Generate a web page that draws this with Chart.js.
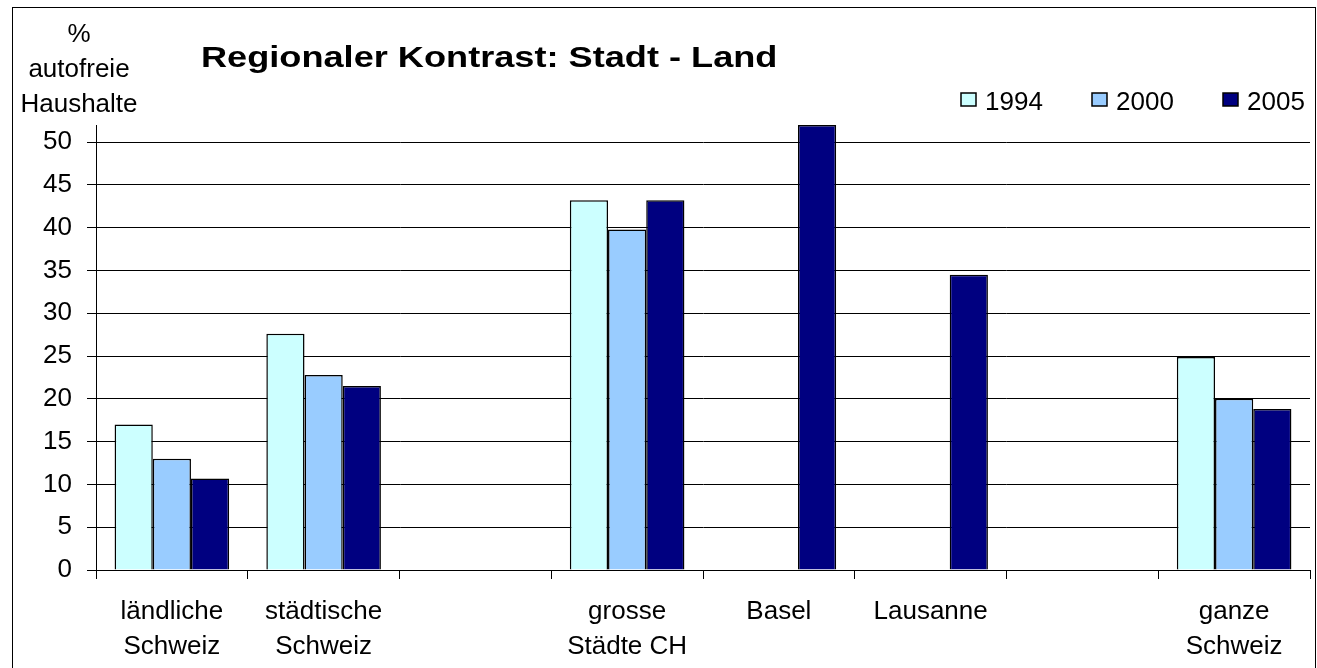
<!DOCTYPE html>
<html lang="de">
<head>
<meta charset="utf-8">
<title>Regionaler Kontrast: Stadt - Land</title>
<script src="https://cdn.jsdelivr.net/npm/chart.js@4.4.1/dist/chart.umd.min.js"></script>
<style>
  html, body { margin: 0; padding: 0; background: #fff; }
  #wrap { position: relative; width: 1317px; height: 668px; }
</style>
</head>
<body>
<div id="wrap"><canvas id="barChart"></canvas></div>
<script>
// Categories (empty strings are the gaps in the original sheet)
const categories = [
  ["ländliche", "Schweiz"],
  ["städtische", "Schweiz"],
  "",
  ["grosse", "Städte CH"],
  "Basel",
  "Lausanne",
  "",
  ["ganze", "Schweiz"]
];

// % autofreie Haushalte per survey year
const years = ["1994", "2000", "2005"];
const values1994 = [17.0, 27.6, null, 43.2, null, null, null, 24.9];
const values2000 = [13.0, 22.8, null, 39.8, null, null, null, 20.0];
const values2005 = [10.7, 21.5, null, 43.2, 52.0, 34.5, null, 18.8];

// y tick labels shown on the axis
const yTicks = [0, 5, 10, 15, 20, 25, 30, 35, 40, 45, 50];

const yAxisTitle = ["%", "autofreie", "Haushalte"];
const chartTitle = "Regionaler Kontrast: Stadt - Land";

const FONT = "'Liberation Sans', Arial, sans-serif";
const colors = ["#CCFFFF", "#99CCFF", "#000080"];

document.addEventListener("DOMContentLoaded", function () {

  // Frame, title, axis caption and legend drawn straight on the canvas
  const decorations = {
    id: "decorations",
    beforeDraw(chart) {
      const ctx = chart.ctx;
      ctx.save();
      ctx.fillStyle = "#fff";
      ctx.fillRect(0, 0, chart.width, chart.height);
      ctx.restore();
    },
    afterDraw(chart) {
      const ctx = chart.ctx;
      ctx.save();

      // outer frame
      ctx.strokeStyle = "#000";
      ctx.lineWidth = 1;
      ctx.strokeRect(12.5, 7.5, 1303, 680);

      // title (slightly stretched like the original)
      ctx.fillStyle = "#000";
      ctx.font = "bold 30px " + FONT;
      ctx.textAlign = "left";
      ctx.textBaseline = "alphabetic";
      ctx.save();
      ctx.translate(201, 67);
      ctx.scale(1.205, 1);
      ctx.fillText(chartTitle, 0, 0);
      ctx.restore();

      // y axis caption, three centred lines
      ctx.font = "26px " + FONT;
      ctx.textAlign = "center";
      yAxisTitle.forEach((line, i) => ctx.fillText(line, 79, 42 + i * 35));

      // legend
      const boxX = [961, 1092, 1223];
      ctx.textAlign = "left";
      chart.data.datasets.forEach((ds, i) => {
        ctx.fillStyle = ds.backgroundColor;
        ctx.fillRect(boxX[i], 93, 15, 13);
        ctx.strokeStyle = "#000";
        ctx.lineWidth = 1.5;
        ctx.strokeRect(boxX[i], 93, 15, 13);
        ctx.fillStyle = "#000";
        ctx.fillText(ds.label, boxX[i] + 24, 110);
      });

      ctx.restore();
    }
  };

  new Chart(document.getElementById("barChart").getContext("2d"), {
    type: "bar",
    data: {
      labels: categories,
      datasets: [
        { label: years[0], data: values1994, backgroundColor: colors[0] },
        { label: years[1], data: values2000, backgroundColor: colors[1] },
        { label: years[2], data: values2005, backgroundColor: colors[2] }
      ].map(ds => Object.assign(ds, {
        borderColor: "#000",
        borderWidth: 1.5,
        categoryPercentage: 0.755,
        barPercentage: 1.0
      }))
    },
    options: {
      responsive: true,
      maintainAspectRatio: false,
      animation: false,
      layout: { padding: { top: 125, right: 7, bottom: 0, left: 0 } },
      plugins: {
        legend: { display: false },
        title: { display: false },
        tooltip: { enabled: false }
      },
      scales: {
        x: {
          grid: {
            offset: true,
            drawOnChartArea: false,
            drawTicks: true,
            tickLength: 9,
            color: "#000"
          },
          border: { display: true, color: "#000", width: 1 },
          ticks: {
            color: "#000",
            padding: 15,
            maxRotation: 0,
            autoSkip: false,
            font: { family: FONT, size: 26, lineHeight: 1.35 }
          },
          afterFit: scale => { scale.height = 98; }
        },
        y: {
          min: 0,
          max: 52,
          grid: {
            color: "#000",
            lineWidth: 1,
            drawTicks: true,
            tickLength: 9
          },
          border: { display: true, color: "#000", width: 1 },
          ticks: {
            color: "#000",
            padding: 15,
            font: { family: FONT, size: 26 }
          },
          // fixed ticks every 5 up to 50 (the axis itself runs to 52)
          afterBuildTicks: scale => {
            scale.ticks = yTicks.map(v => ({ value: v }));
          },
          afterFit: scale => { scale.width = 96; }
        }
      }
    },
    plugins: [decorations]
  });
});
</script>
</body>
</html>
